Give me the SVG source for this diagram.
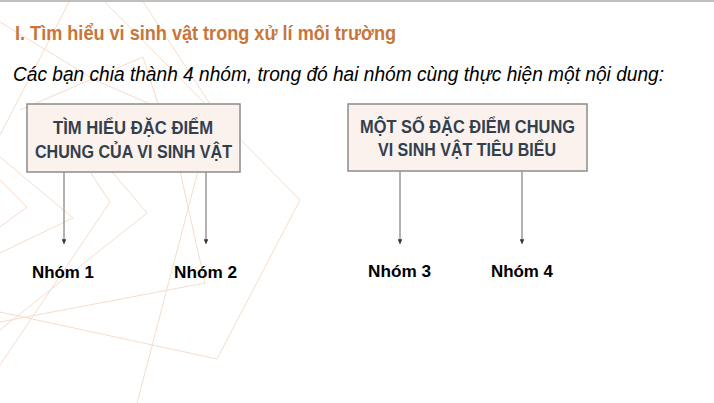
<svg xmlns="http://www.w3.org/2000/svg" width="714" height="403" viewBox="0 0 714 403">
  <defs>
    <style>
      .bg { fill: none; stroke: #f5dccb; stroke-width: 1; }
      .box { fill: #fbf2ed; stroke: #8c8c8c; stroke-width: 1.5; }
      .boxtxt { font-family: "Liberation Sans", Arial, sans-serif; font-weight: bold; font-size: 18px; fill: #323f4f; text-anchor: middle; }
      .lbl { font-family: "Liberation Sans", Arial, sans-serif; font-weight: bold; font-size: 17px; fill: #000000; text-anchor: middle; }
      .conn { stroke: #808080; stroke-width: 1.2; fill: none; marker-end: url(#arr); }
    </style>
    <marker id="arr" viewBox="0 0 10 10" refX="10" refY="5" markerWidth="4" markerHeight="4" markerUnits="strokeWidth" orient="auto">
      <path d="M0,0 L10,5 L0,10 Z" fill="#333333"/>
    </marker>
  </defs>
  <rect x="0" y="0" width="714" height="403" fill="#ffffff"/>
  <g id="background">
    <polyline class="bg" points="103,0 300,200 217,359 0,312"/>
    <polyline class="bg" points="142,0 214,110 137,403"/>
    <polyline class="bg" points="165,104 205,283 0,322"/>
    <polyline class="bg" points="70,0 0,135"/>
    <polyline class="bg" points="20,110 143,57 160,110"/>
    <polyline class="bg" points="0,22 95,80 150,104"/>
    <polyline class="bg" points="0,180 27,207 0,227"/>
    <polyline class="bg" points="0,157 73,218 0,253"/>
    <polyline class="bg" points="45,104 110,202 0,365"/>
    <polyline class="bg" points="85,140 147,213 0,330"/>
  </g>
  <rect x="0" y="0" width="714" height="2" fill="#bfbfbf"/>
  <g id="title">
    <text x="15" y="40" font-family="Liberation Sans, Arial, sans-serif" font-weight="bold" font-size="20" fill="#c8763a" textLength="381" lengthAdjust="spacingAndGlyphs">I. Tìm hiểu vi sinh vật trong xử lí môi trường</text>
    <text x="13" y="81" font-family="Liberation Sans, Arial, sans-serif" font-style="italic" font-size="20" fill="#000000" textLength="651" lengthAdjust="spacingAndGlyphs">Các bạn chia thành 4 nhóm, trong đó hai nhóm cùng thực hiện một nội dung:</text>
  </g>
  <g id="connectors">
    <line class="conn" x1="64" y1="172" x2="64" y2="244"/>
    <line class="conn" x1="206" y1="172" x2="206" y2="244"/>
    <line class="conn" x1="400" y1="171" x2="400" y2="244"/>
    <line class="conn" x1="522" y1="171" x2="522" y2="244"/>
  </g>
  <g id="box1">
    <rect class="box" x="27" y="104" width="213" height="68"/>
    <text class="boxtxt" x="133" y="134" textLength="160" lengthAdjust="spacingAndGlyphs">TÌM HIỂU ĐẶC ĐIỂM</text>
    <text class="boxtxt" x="133.5" y="158" textLength="197" lengthAdjust="spacingAndGlyphs">CHUNG CỦA VI SINH VẬT</text>
  </g>
  <g id="box2">
    <rect class="box" x="348" y="104" width="239" height="67"/>
    <text class="boxtxt" x="467.5" y="133" textLength="215" lengthAdjust="spacingAndGlyphs">MỘT SỐ ĐẶC ĐIỂM CHUNG</text>
    <text class="boxtxt" x="467" y="156" textLength="178" lengthAdjust="spacingAndGlyphs">VI SINH VẬT TIÊU BIỂU</text>
  </g>
  <g id="group1"><text class="lbl" x="63" y="278" textLength="62" lengthAdjust="spacingAndGlyphs">Nhóm 1</text></g>
  <g id="group2"><text class="lbl" x="205.5" y="278" textLength="63" lengthAdjust="spacingAndGlyphs">Nhóm 2</text></g>
  <g id="group3"><text class="lbl" x="399.5" y="277" textLength="63" lengthAdjust="spacingAndGlyphs">Nhóm 3</text></g>
  <g id="group4"><text class="lbl" x="522" y="277" textLength="62" lengthAdjust="spacingAndGlyphs">Nhóm 4</text></g>
</svg>
